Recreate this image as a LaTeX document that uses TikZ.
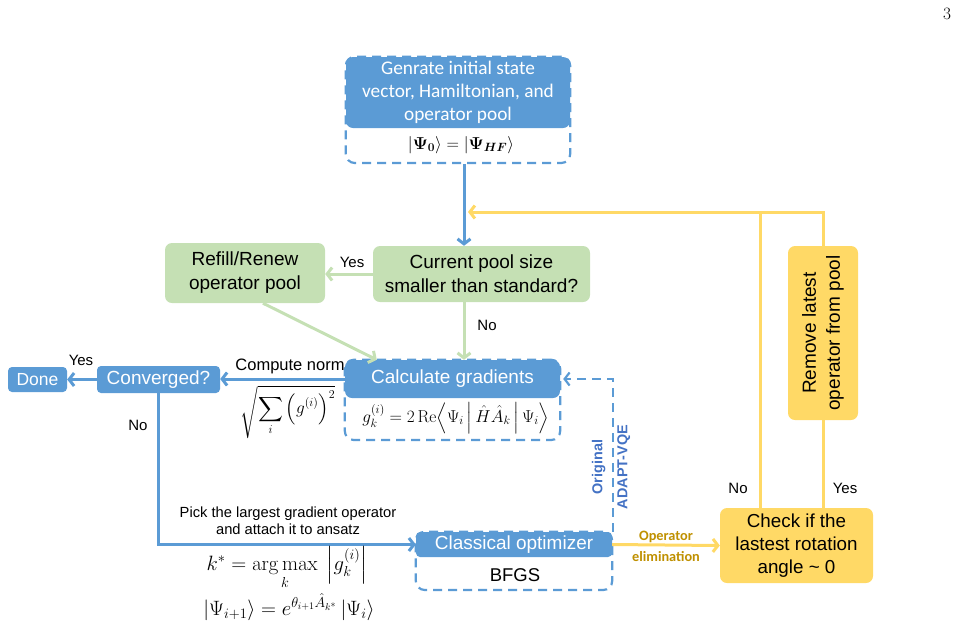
\documentclass[tikz,border=0pt]{standalone}
\usepackage{amsmath}
\usepackage[no-math]{fontspec}
\setmainfont{Liberation Sans}
\newfontfamily\calibri{Carlito}
\usetikzlibrary{arrows.meta,fit}
\definecolor{adaptblue}{HTML}{5B9BD5}
\definecolor{labelblue}{HTML}{4472C4}
\definecolor{poolgreen}{HTML}{C5E0B4}
\definecolor{elimyellow}{HTML}{FFD966}
\definecolor{elimgold}{HTML}{BF9000}
\begin{document}
\begin{tikzpicture}[x=1pt, y=-1pt,
  boxtext/.style={font=\fontsize{19}{24}\selectfont, align=center, inner sep=0pt, rounded corners=7pt},
  bluebox/.style={boxtext, fill=adaptblue, text=white},
  greenbox/.style={boxtext, fill=poolgreen, text=black},
  yellowbox/.style={boxtext, fill=elimyellow, text=black},
  dashframe/.style={draw=adaptblue, line width=2.2pt, dash pattern=on 9pt off 6pt, rounded corners=9pt, inner sep=0pt},
  tip/.style={-{Straight Barb[length=5pt,width=13pt]}},
  bluearrow/.style={draw=adaptblue, line width=3pt, tip},
  greenarrow/.style={draw=poolgreen, line width=3pt, tip},
  yellowline/.style={draw=elimyellow, line width=3pt},
  yellowarrow/.style={yellowline, tip},
  answer/.style={font=\fontsize{15}{18}\selectfont},
  eq/.style={inner sep=0pt, font=\fontsize{18}{21}\selectfont}]
\useasboundingbox (0,0) rectangle (960,627);
\node[font=\fontsize{17}{18}\selectfont] (pagenum) at (947,14) {$3$};

% Initial state
\node[bluebox, minimum width=224pt, minimum height=71pt, font=\calibri\fontsize{19.3}{23}\selectfont] (init) at (458,92.5)
  {Genrate initial state\\vector, Hamiltonian, and\\operator pool};
\node[eq, font=\fontsize{18.5}{20}\selectfont] (initeq) at (461,145) {$\left|\boldsymbol{\Psi_0}\right\rangle = \left|\boldsymbol{\Psi_{HF}}\right\rangle$};
\coordinate (initbot) at (458,163);
\node[dashframe, fit=(init)(initbot)] (initframe) {};
\coordinate (spine) at (464,0);

% Pool check
\node[greenbox, minimum width=217pt, minimum height=56pt] (pool) at (481.5,274) {Current pool size\\smaller than standard?};
\node[greenbox, minimum width=160pt, minimum height=60pt] (refill) at (245,273) {Refill/Renew\\operator pool};
\draw[bluearrow] (initframe.south -| spine) -- (pool.north -| spine);
\draw[greenarrow] (pool.west) -- (pool.west -| refill.east);
\node[answer] (poolyes) at (352,262) {Yes};

% Gradients
\node[bluebox, minimum width=215pt, minimum height=38pt] (calc) at (452.5,379) {Calculate gradients};
\node[eq, font=\fontsize{17}{19}\selectfont] (calceq) at (456,418)
  {$g_k^{(i)} = 2\,\mathrm{Re}\Big\langle \Psi_i \,\Big|\, \hat{H}\hat{A}_k \,\Big|\, \Psi_i \Big\rangle$};
\coordinate (calcbot) at (452.5,440);
\node[dashframe, fit=(calc)(calcbot)] (calcframe) {};
\draw[greenarrow] (pool.south -| spine) -- (calc.north -| spine);
\node[answer] (poolno) at (487,325) {No};
\draw[greenarrow] ([xshift=18pt]refill.south) -- ([xshift=32pt]calc.north west);

% Convergence
\node[bluebox, minimum width=123pt, minimum height=27pt, rounded corners=4pt] (conv) at (158.5,379.5) {Converged?};
\node[bluebox, minimum width=59pt, minimum height=25pt, rounded corners=4pt, font=\fontsize{17.5}{20}\selectfont] (done) at (37.5,379.5) {Done};
\draw[bluearrow] (calc.west) -- (calc.west -| conv.east);
\node[font=\fontsize{16.5}{19}\selectfont] (normlabel) at (290,366) {Compute norm};
\node[eq] (normeq) at (288,412) {$\sqrt{\displaystyle\sum_i \left(g^{(i)}\right)^2}$};
\draw[bluearrow] (conv.west) -- (conv.west -| done.east);
\node[answer] (convyes) at (81,360) {Yes};
\node[answer] (convno) at (138,425) {No};

% Optimizer
\node[bluebox, minimum width=196pt, minimum height=25pt, rounded corners=4pt] (opt) at (514,544.5) {Classical optimizer};
\node[font=\fontsize{18.5}{20}\selectfont] (bfgs) at (515,575) {BFGS};
\coordinate (optbot) at (514,590);
\node[dashframe, fit=(opt)(optbot)] (optframe) {};
\draw[bluearrow] (conv.south) |- (opt.west);
\node[font=\fontsize{14.7}{17}\selectfont, align=center] (picklabel) at (288,521)
  {Pick the largest gradient operator\\and attach it to ansatz};
\node[eq, font=\fontsize{20}{22}\selectfont] (pickeq) at (287,568) {$k^* = \displaystyle\operatorname*{arg\,max}_k\ \left|g_k^{(i)}\right|$};
\node[eq, font=\fontsize{20.5}{22}\selectfont] (updateeq) at (289,607) {$\left|\Psi_{i+1}\right\rangle = e^{\theta_{i+1}\hat{A}_{k^*}}\left|\Psi_i\right\rangle$};
\draw[draw=adaptblue, line width=2.2pt, dash pattern=on 9pt off 6pt, tip] (optframe.east |- opt.north) |- ([xshift=3pt]calc.east);
\node[rotate=90, text=labelblue, font=\bfseries\fontsize{14.4}{25}\selectfont, align=center] (origlabel) at (611,467) {Original\\ADAPT-VQE};

% Operator elimination
\node[yellowbox, minimum width=153pt, minimum height=75pt, font=\fontsize{18.8}{23}\selectfont] (check) at (796.5,545.5) {Check if the\\lastest rotation\\angle \textasciitilde{} 0};
\draw[yellowarrow] (opt.east) -- (check.west);
\node[text=elimgold, font=\calibri\bfseries\fontsize{14.3}{21}\selectfont, align=center] (elimlabel) at (666,546) {Operator\\elimination};
\node[yellowbox, rotate=90, minimum width=174pt, minimum height=70pt] (remove) at (823,333) {Remove latest\\operator from pool};
\coordinate (nojoin) at (760,212);
\coordinate (reentry) at (468,212);
% rotated node: east is its top, west its bottom
\draw[yellowline] (check.north -| remove.west) -- (remove.west);
\draw[yellowarrow] (remove.east) |- (reentry);
\draw[yellowline] (check.north -| nojoin) -- (nojoin);
\node[answer] (checkno) at (738,488) {No};
\node[answer] (checkyes) at (845,488) {Yes};
\end{tikzpicture}
\end{document}
